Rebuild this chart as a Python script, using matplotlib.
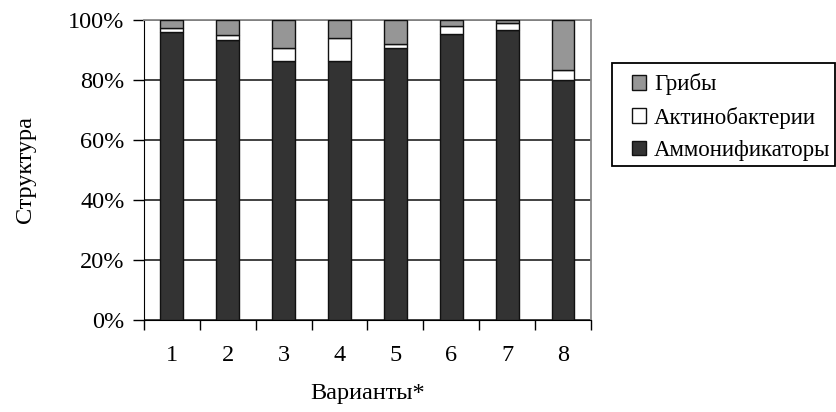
"""Structure of microbial groups by variant (stacked 100% bars)."""

import matplotlib

matplotlib.use("Agg")
import matplotlib.pyplot as plt
import numpy as np
from matplotlib.patches import Rectangle
from matplotlib.ticker import FixedLocator, PercentFormatter

variants = ["1", "2", "3", "4", "5", "6", "7", "8"]
ammonifiers = [96.0, 93.4, 86.3, 86.3, 90.6, 95.3, 96.7, 80.0]
actinobacteria = [1.2, 1.5, 4.3, 7.6, 1.5, 2.8, 2.4, 3.3]
fungi = [2.8, 5.1, 9.4, 6.1, 7.9, 1.9, 0.9, 16.7]

plt.rcParams["font.family"] = ["Liberation Serif", "DejaVu Serif"]
FS = 17.5

fig = plt.figure(figsize=(8.37, 4.12), dpi=100)
ax = fig.add_axes([0.172, 0.2233, 0.534, 0.7282])

x = np.arange(len(variants))
w = 0.41
edge = dict(edgecolor="#111111", linewidth=1.0, zorder=3)
b1 = ax.bar(x, ammonifiers, w, color="#333333", label="Аммонификаторы", **edge)
b2 = ax.bar(x, actinobacteria, w, bottom=ammonifiers, color="white",
            label="Актинобактерии", **edge)
bottom2 = np.add(ammonifiers, actinobacteria)
b3 = ax.bar(x, fungi, w, bottom=bottom2, color="#969696", label="Грибы", **edge)

ax.set_xlim(-0.5, len(variants) - 0.5)
ax.set_ylim(0, 100)
ax.yaxis.set_major_locator(FixedLocator(np.arange(0, 101, 20)))
ax.yaxis.set_major_formatter(PercentFormatter(decimals=0))
ax.grid(axis="y", color="#333333", linewidth=1.3, zorder=0)
ax.set_axisbelow(True)

# category ticks sit on the boundaries, labels in the middle
ax.set_xticks(np.arange(-0.5, len(variants), 1.0))
ax.set_xticklabels([])
ax.set_xticks(x, minor=True)
ax.set_xticklabels(variants, minor=True)
ax.tick_params(axis="x", which="major", direction="out", length=7, width=1.0)
ax.tick_params(axis="x", which="minor", length=0, pad=18, labelsize=FS)
ax.tick_params(axis="y", direction="out", length=8, width=1.0, pad=6,
               labelsize=FS)

for side in ("top", "right"):
    ax.spines[side].set_color("#888888")
    ax.spines[side].set_linewidth(1.3)
ax.spines["left"].set_color("black")
ax.spines["bottom"].set_color("black")

ax.set_xlabel("Варианты*", fontsize=FS, labelpad=12)
ax.set_ylabel("Структура", fontsize=FS, labelpad=23)

# legend entries without their own frame; the box is drawn separately
leg = fig.legend(handles=[b3, b2, b1], loc="upper left",
                 bbox_to_anchor=(0.743, 0.847),
                 fontsize=FS - 1, frameon=False,
                 handlelength=0.6, handleheight=0.6,
                 handletextpad=0.35, labelspacing=0.5, borderpad=0.45,
                 borderaxespad=0)
fig.patches.append(Rectangle((0.731, 0.597), 0.267, 0.250,
                             transform=fig.transFigure, fill=False,
                             edgecolor="black", linewidth=1.3))

fig.savefig("out.png", dpi=100)
